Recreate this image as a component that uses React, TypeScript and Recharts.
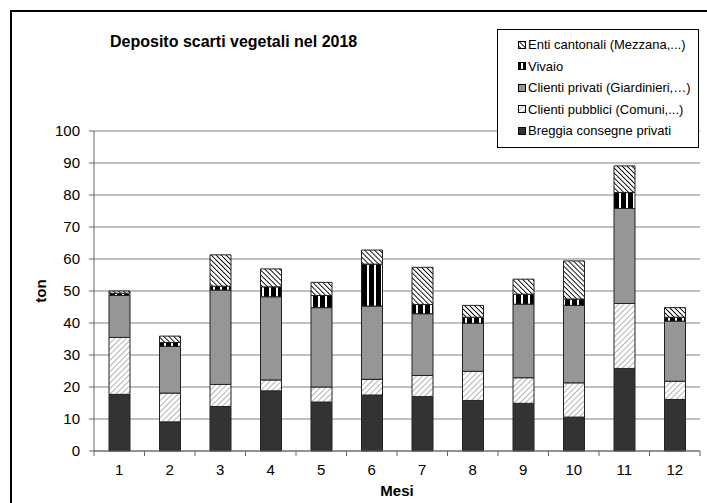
import { Bar, BarChart, CartesianGrid, XAxis, YAxis } from 'recharts'

const months = ['1', '2', '3', '4', '5', '6', '7', '8', '9', '10', '11', '12']
const breggia = [17.7, 9.1, 13.9, 18.8, 15.3, 17.5, 17.0, 15.8, 14.9, 10.6, 25.8, 16.1]
const pubblici = [17.8, 9.0, 6.9, 3.4, 4.7, 4.9, 6.6, 9.1, 8.0, 10.7, 20.3, 5.7]
const privati = [13.1, 14.6, 29.5, 26.0, 24.8, 22.9, 19.3, 15.0, 23.0, 24.2, 29.7, 18.8]
const vivaio = [0.7, 1.2, 1.2, 3.1, 3.8, 13.1, 2.9, 1.9, 3.1, 2.0, 5.0, 1.2]
const enti = [0.7, 2.0, 9.8, 5.6, 4.1, 4.4, 11.6, 3.7, 4.7, 11.9, 8.3, 3.0]
const yTicks = [0, 10, 20, 30, 40, 50, 60, 70, 80, 90, 100]

const series = [
  { key: 'breggia', name: 'Breggia consegne privati', fill: '#333333' },
  { key: 'pubblici', name: 'Clienti pubblici (Comuni,...)', fill: 'url(#patPubblici)' },
  { key: 'privati', name: 'Clienti privati (Giardinieri,…)', fill: '#969696' },
  { key: 'vivaio', name: 'Vivaio', fill: 'url(#patVivaio)' },
  { key: 'enti', name: 'Enti cantonali (Mezzana,...)', fill: 'url(#patEnti)' },
]

const data = months.map((m, i) => ({
  mese: m,
  breggia: breggia[i],
  pubblici: pubblici[i],
  privati: privati[i],
  vivaio: vivaio[i],
  enti: enti[i],
}))

const FONT = 'Arial, "Liberation Sans", sans-serif'
const W = 707
const H = 503
const PLOT_LEFT = 94
const PLOT_RIGHT = 700
const PLOT_TOP = 131
const PLOT_BOTTOM = 451
const HALF_BAND = (PLOT_RIGHT - PLOT_LEFT) / months.length / 2

function Patterns() {
  return (
    <svg width={0} height={0} style={{ position: 'absolute' }}>
      <defs>
        <pattern id="patPubblici" width={4} height={4} patternUnits="userSpaceOnUse" patternTransform="rotate(45)">
          <rect width={4} height={4} fill="#fff" />
          <line x1={0} y1={0} x2={0} y2={4} stroke="#8a8a8a" strokeWidth={1.3} />
        </pattern>
        <pattern id="patEnti" width={3.5} height={3.5} patternUnits="userSpaceOnUse" patternTransform="rotate(-45)">
          <rect width={3.5} height={3.5} fill="#fff" />
          <line x1={0} y1={0} x2={0} y2={3.5} stroke="#000" strokeWidth={1.8} />
        </pattern>
        <pattern id="patVivaio" width={7} height={7} patternUnits="userSpaceOnUse">
          <rect width={7} height={7} fill="#000" />
          <rect x={3} width={2} height={7} fill="#fff" />
        </pattern>
      </defs>
    </svg>
  )
}

function XTick(props: any) {
  const { x, y, payload, index } = props
  const axisY = PLOT_BOTTOM
  return (
    <g>
      <text x={x} y={y} dy="0.71em" textAnchor="middle" fontSize={15} fill="#000" fontFamily={FONT}>
        {payload.value}
      </text>
      <line x1={x + HALF_BAND} x2={x + HALF_BAND} y1={axisY} y2={axisY + 5} stroke="#666" />
      {index === 0 && <line x1={x - HALF_BAND} x2={x - HALF_BAND} y1={axisY} y2={axisY + 5} stroke="#666" />}
    </g>
  )
}

function LegendBox() {
  const items = [...series].reverse()
  return (
    <div
      style={{
        position: 'absolute',
        left: 497,
        top: 29,
        width: 202,
        height: 119,
        border: '1px solid #000',
        background: '#fff',
        fontFamily: FONT,
        fontSize: 13,
        paddingTop: 4,
        boxSizing: 'border-box',
      }}
    >
      {items.map((s) => (
        <div key={s.key} style={{ display: 'flex', alignItems: 'center', height: 21.5, paddingLeft: 20 }}>
          <svg width={8} height={8} style={{ marginRight: 2 }}>
            <rect x={0.5} y={0.5} width={7} height={7} fill={s.fill} stroke="#000" strokeWidth={1} />
          </svg>
          <span>{s.name}</span>
        </div>
      ))}
    </div>
  )
}

export default function App() {
  return (
    <div style={{ position: 'absolute', left: 0, top: 0, width: W, height: H, overflow: 'hidden', background: '#fff' }}>
      <Patterns />
      <div
        style={{
          position: 'absolute',
          left: 10,
          top: 10,
          width: 720,
          height: 520,
          border: '2px solid #000',
        }}
      />
      <div style={{ position: 'absolute', left: 0, top: 0 }}>
        <BarChart
          width={W}
          height={H}
          data={data}
          margin={{ top: PLOT_TOP, right: W - PLOT_RIGHT, bottom: H - PLOT_BOTTOM - 30, left: PLOT_LEFT - 30 }}
          barSize={21}
        >
          <CartesianGrid vertical={false} stroke="#808080" />
          <XAxis
            dataKey="mese"
            height={30}
            tickLine={false}
            tickSize={6}
            tickMargin={7}
            stroke="#666"
            tick={<XTick />}
            interval={0}
          />
          <YAxis
            width={30}
            domain={[0, 100]}
            ticks={yTicks}
            interval={0}
            tickSize={5}
            tickMargin={9}
            stroke="#666"
            tick={{ fontSize: 15, fill: '#000', fontFamily: FONT }}
          />
          {series.map((s) => (
            <Bar
              key={s.key}
              dataKey={s.key}
              name={s.name}
              stackId="a"
              fill={s.fill}
              stroke="#222"
              strokeWidth={1}
              isAnimationActive={false}
            />
          ))}
        </BarChart>
      </div>
      <div
        style={{
          position: 'absolute',
          left: 110,
          top: 33,
          fontFamily: FONT,
          fontSize: 16,
          fontWeight: 'bold',
          whiteSpace: 'nowrap',
        }}
      >
        Deposito scarti vegetali nel 2018
      </div>
      <div
        style={{
          position: 'absolute',
          left: 397,
          top: 490,
          transform: 'translate(-50%, -50%)',
          fontFamily: FONT,
          fontSize: 15,
          fontWeight: 'bold',
        }}
      >
        Mesi
      </div>
      <div
        style={{
          position: 'absolute',
          left: 40,
          top: 291,
          transform: 'translate(-50%, -50%) rotate(-90deg)',
          fontFamily: FONT,
          fontSize: 15,
          fontWeight: 'bold',
        }}
      >
        ton
      </div>
      <LegendBox />
    </div>
  )
}
